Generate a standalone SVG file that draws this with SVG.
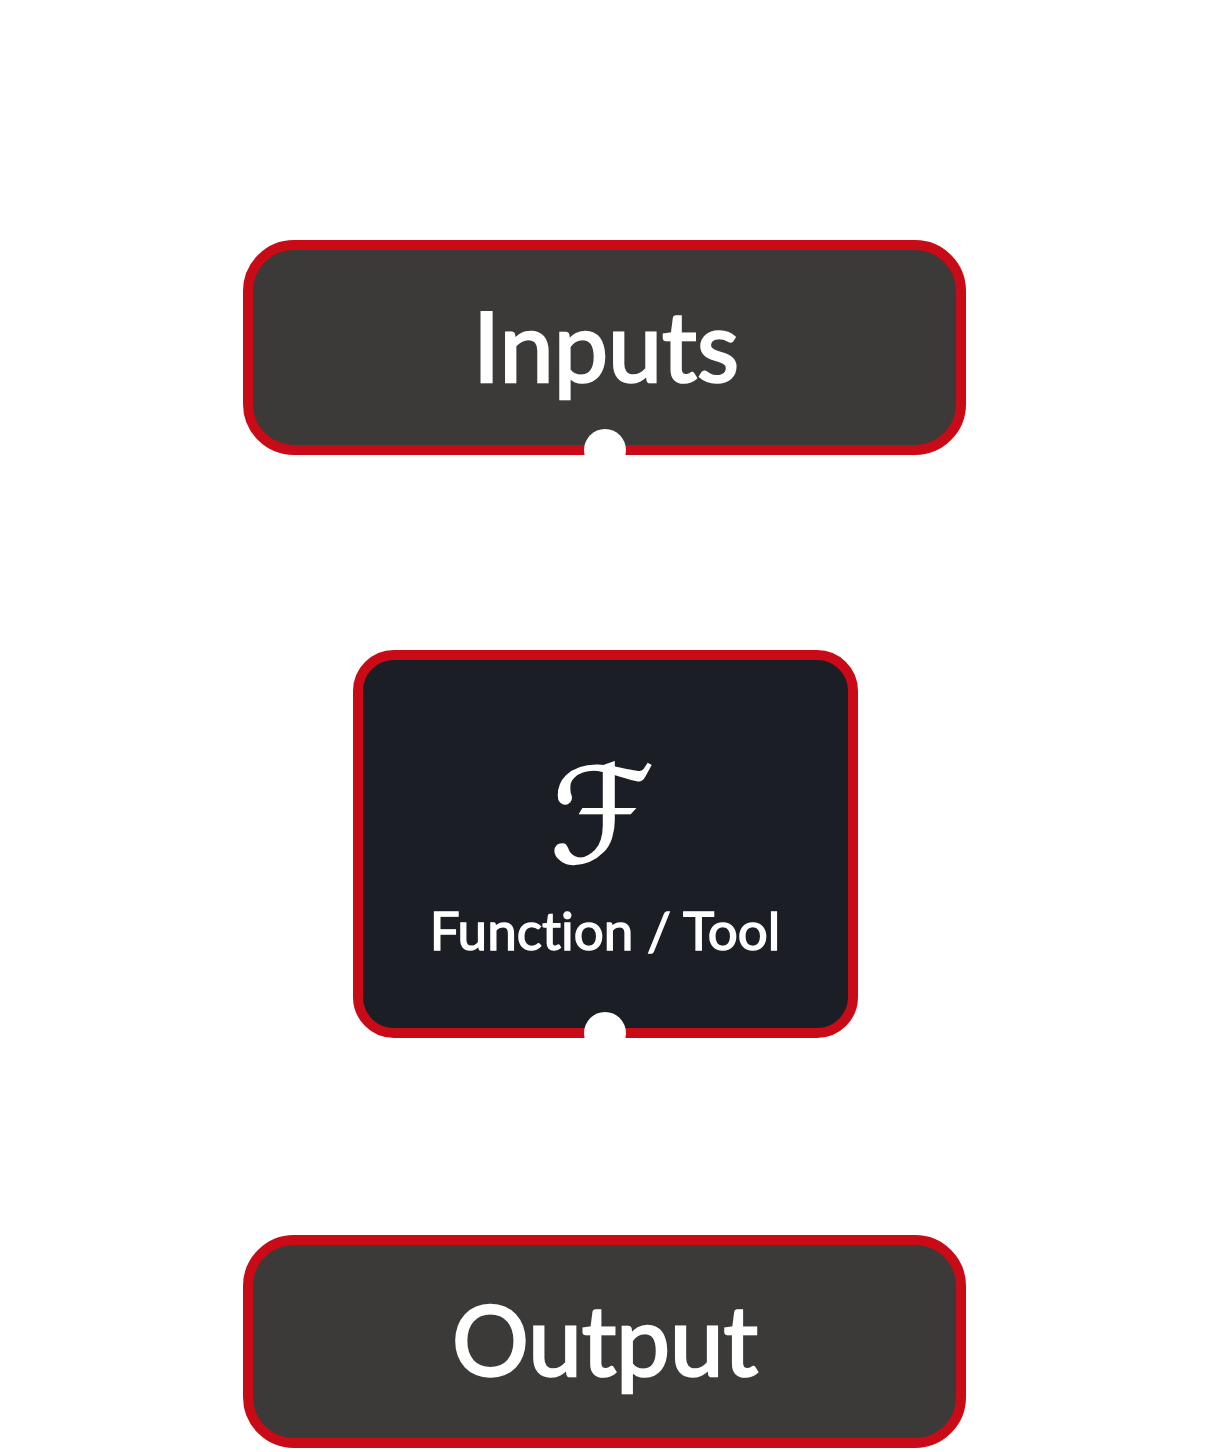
<svg xmlns="http://www.w3.org/2000/svg" width="1214" height="1452" viewBox="0 0 1214 1452">
<style>
.box{stroke:#c80b16;stroke-width:10}
.io{fill:#3b3a38}
.fn{fill:#1b1e24}
.lbl{fill:#ffffff;stroke:#ffffff;font-family:Lato,"Noto Sans",sans-serif;font-weight:400;text-anchor:middle;font-variant-ligatures:none;font-feature-settings:"liga" 0,"clig" 0}
.big{stroke-width:2.6}
.small{stroke-width:1.4}
.port{fill:#ffffff}
.edge{stroke:#ffffff;stroke-width:2;fill:none}
</style>
<defs>
<marker id="arr" viewBox="0 0 10 10" refX="10" refY="5" markerWidth="6" markerHeight="6" orient="auto" markerUnits="userSpaceOnUse">
<path d="M0,0 L10,5 L0,10 z" fill="#ffffff"/>
</marker>
</defs>
<rect width="1214" height="1452" fill="#ffffff"/>
<g id="edges">
<path class="edge" d="M605,471 L605,655" marker-end="url(#arr)"/>
<path class="edge" d="M605,1054 L605,1240" marker-end="url(#arr)"/>
</g>
<g id="inputs">
<rect class="box io" x="248" y="245" width="713" height="205" rx="46"/>
<text class="lbl big" x="606" y="382" font-size="97">Inputs</text>
<circle class="port" cx="605" cy="450" r="21"/>
</g>
<g id="function">
<rect class="box fn" x="358" y="655" width="495" height="378" rx="36"/>
<text x="602" y="862" font-size="132" fill="#ffffff" stroke="#ffffff" stroke-width="2" text-anchor="middle" font-family="'DejaVu Sans',sans-serif">ℱ</text>
<text class="lbl small" x="605" y="950" font-size="53">Function / Tool</text>
<circle class="port" cx="605" cy="1033" r="21"/>
</g>
<g id="output">
<rect class="box io" x="248" y="1240" width="713" height="203" rx="46"/>
<text class="lbl big" x="605" y="1376" font-size="96">Output</text>
</g>
</svg>
